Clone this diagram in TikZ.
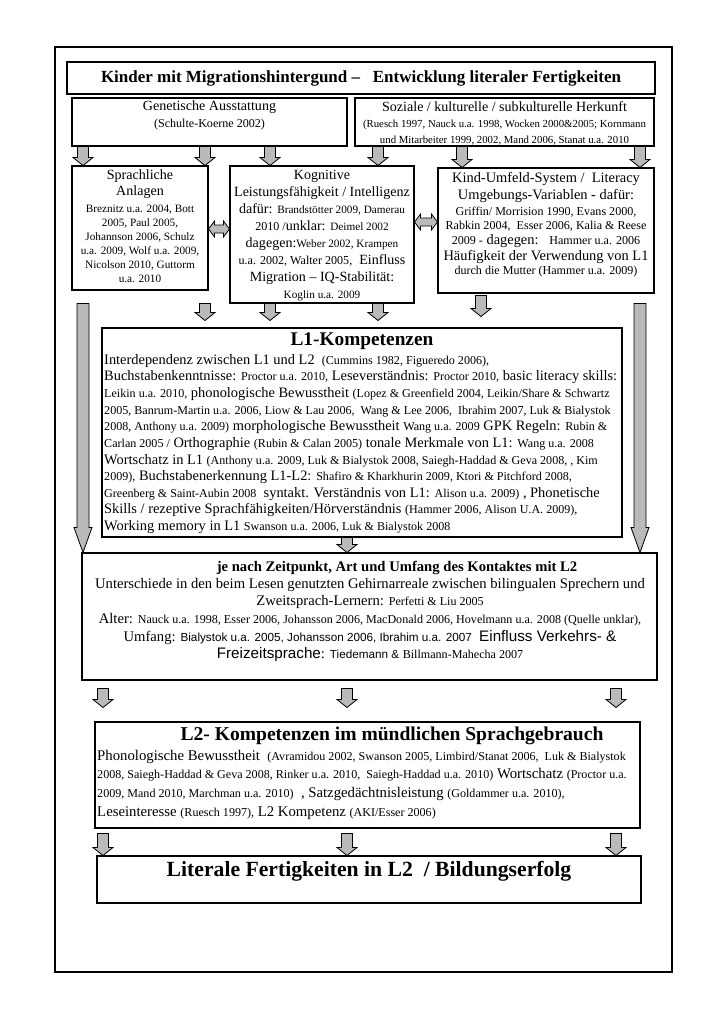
\documentclass[tikz,border=0pt]{standalone}
\usepackage{fontspec}
\setmainfont{Liberation Serif}
\setsansfont{Liberation Sans}
\usetikzlibrary{calc, fit, positioning}

% literature references in smaller type
\newcommand\lit[1]{{\fontsize{10.3}{10}\selectfont #1}}
\newcommand\smlit[1]{{\fontsize{9.6}{10}\selectfont #1}}
\newcommand\tinylit[1]{{\fontsize{9.2}{10}\selectfont #1}}
\newcommand\slit[1]{{\sffamily\fontsize{10}{10}\selectfont #1}}

% gray block arrows: start, end, shaft half width, head half width, head length
\newcommand\blockdown[5]{%
  \draw[blockfill] let \p1=#1, \p2=#2 in
    (\x1-#3,\y1) -- (\x1+#3,\y1) -- (\x1+#3,\y2+#5) -- (\x1+#4,\y2+#5) -- (\x1,\y2)
    -- (\x1-#4,\y2+#5) -- (\x1-#3,\y2+#5) -- cycle;}
\newcommand\shortarrow[2]{\blockdown{#1}{#2}{1.65mm}{3mm}{2.4mm}}
\newcommand\longarrow[2]{\blockdown{#1}{#2}{1.8mm}{2.7mm}{7.5mm}}
\newcommand\bothblock[2]{%
  \draw[blockfill] let \p1=#1, \p2=#2 in
    (\x1,\y1) -- (\x1+1.8mm,\y1+2.4mm) -- (\x1+1.8mm,\y1+1.2mm) -- (\x2-1.8mm,\y1+1.2mm)
    -- (\x2-1.8mm,\y1+2.4mm) -- (\x2,\y1) -- (\x2-1.8mm,\y1-2.4mm) -- (\x2-1.8mm,\y1-1.2mm)
    -- (\x1+1.8mm,\y1-1.2mm) -- (\x1+1.8mm,\y1-2.4mm) -- cycle;}

\begin{document}
\begin{tikzpicture}[x=0.3mm, y=-0.3mm,
    box/.style={draw, line width=0.9pt, inner sep=0pt},
    txt/.style={inner sep=0pt, align=center, font=\fontsize{12}{14}\selectfont},
    bodytxt/.style={inner sep=0pt, align=left, anchor=north west, font=\fontsize{12.3}{14.2}\selectfont},
    headtxt/.style={inner sep=0pt, font=\bfseries\fontsize{16.5}{18}\selectfont},
    blockfill/.style={draw, line width=0.7pt, fill=black!27}]
  \fill[white] (0,0) rectangle (724,1024);
  \useasboundingbox (0,0) rectangle (724,1024);
  \draw[line width=1pt] (55,47) rectangle (672,972);

  % boxes
  \node[box, fit={(67,62) (655,94)}] (title) {};
  \node[box, fit={(72,98) (347,146)}] (gen) {};
  \node[box, fit={(355,98) (654,146)}] (soz) {};
  \node[box, fit={(72,166) (208,290)}] (sprach) {};
  \node[box, fit={(230,166) (414,303)}] (kog) {};
  \node[box, fit={(438,168) (654,293)}] (kind) {};
  \node[box, fit={(102,328) (622,537)}] (l1) {};
  \node[box, fit={(82,553) (657,680)}] (kontakt) {};
  \node[box, fit={(95,722) (640,828)}] (l2) {};
  \node[box, fit={(97,856) (641,903)}] (erfolg) {};

  % texts
  \node[inner sep=0pt, font=\bfseries\fontsize{14.5}{16}\selectfont] (titletxt) at (title.center)
    {Kinder mit Migrationshintergund –\ \ \ Entwicklung literaler Fertigkeiten};
  \node[txt, below=3pt of gen.north] (gentxt)
    {Genetische Ausstattung\\ \lit{(Schulte-Koerne 2002)}};
  \node[txt, below=3pt of soz.north] (soztxt)
    {Soziale / kulturelle / subkulturelle Herkunft\\
     \tinylit{(Ruesch 1997, Nauck u.a. 1998, Wocken 2000\&2005; Kornmann}\\
     \tinylit{und Mitarbeiter 1999, 2002, Mand 2006, Stanat u.a. 2010}};
  \node[txt, below=3.5pt of sprach.north, font=\fontsize{12}{12}\selectfont] (sprachtxt)
    {Sprachliche\\[2pt] Anlagen\\[2pt]
     \smlit{Breznitz u.a. 2004, Bott}\\ \smlit{2005, Paul 2005,}\\
     \smlit{Johannson 2006, Schulz}\\ \smlit{u.a. 2009, Wolf u.a. 2009,}\\
     \smlit{Nicolson 2010, Guttorm}\\ \smlit{u.a. 2010}};
  \node[txt, below=4pt of kog.north, font=\fontsize{12}{14.5}\selectfont] (kogtxt)
    {Kognitive\\ Leistungsfähigkeit / Intelligenz\\
     dafür: \smlit{Brandstötter 2009, Damerau}\\
     \lit{2010 /}unklar: \smlit{Deimel 2002}\\
     dagegen:\smlit{Weber 2002, Krampen}\\
     \lit{u.a. 2002, Walter 2005,}\ \ Einfluss\\
     Migration – IQ-Stabilität:\\
     \smlit{Koglin u.a. 2009}};
  \node[txt, below=4pt of kind.north, font=\fontsize{12.3}{12.3}\selectfont] (kindtxt)
    {Kind-Umfeld-System /\ \ Literacy\\[2.5pt]
     Umgebungs-Variablen - dafür:\\[1pt]
     \lit{Griffin/ Morrision 1990, Evans 2000,}\\
     \lit{Rabkin 2004,\ \ Esser 2006, Kalia \& Reese}\\
     \lit{2009 -} dagegen:\ \ \ \lit{Hammer u.a. 2006}\\[1.5pt]
     Häufigkeit der Verwendung von L1\\
     \lit{durch die Mutter (Hammer u.a. 2009)}};

  \node[headtxt, below=4pt of l1.north] (l1head) {L1-Kompetenzen};
  \node[bodytxt] (l1txt) at (104,354)
    {Interdependenz zwischen L1 und L2\ \ \lit{(Cummins 1982, Figueredo 2006),}\\
     Buchstabenkenntnisse: \lit{Proctor u.a. 2010,} Leseverständnis: \lit{Proctor 2010,} basic literacy skills:\\
     \lit{Leikin u.a. 2010,} phonologische Bewusstheit \lit{(Lopez \& Greenfield 2004, Leikin/Share \& Schwartz}\\
     \lit{2005, Banrum-Martin u.a. 2006, Liow \& Lau 2006,\ \ Wang \& Lee 2006,\ \ Ibrahim 2007, Luk \& Bialystok}\\
     \lit{2008, Anthony u.a. 2009)} morphologische Bewusstheit \lit{Wang u.a. 2009} GPK Regeln: \lit{Rubin \&}\\
     \lit{Carlan 2005 /} Orthographie \lit{(Rubin \& Calan 2005)} tonale Merkmale von L1: \lit{Wang u.a. 2008}\\
     Wortschatz in L1 \lit{(Anthony u.a. 2009, Luk \& Bialystok 2008, Saiegh-Haddad \& Geva 2008, , Kim}\\
     \lit{2009),} Buchstabenerkennung L1-L2: \lit{Shafiro \& Kharkhurin 2009, Ktori \& Pitchford 2008,}\\
     \lit{Greenberg \& Saint-Aubin 2008}\ \ syntakt. Verständnis von L1: \lit{Alison u.a. 2009)} , Phonetische\\
     Skills / rezeptive Sprachfähigkeiten/Hörverständnis \lit{(Hammer 2006, Alison U.A. 2009),}\\
     Working memory in L1 \lit{Swanson u.a. 2006, Luk \& Bialystok 2008}};

  \node[inner sep=0pt, font=\bfseries\fontsize{12.5}{13}\selectfont] (kontakthead) at (397,568)
    {je nach Zeitpunkt, Art und Umfang des Kontaktes mit L2};
  \node[txt, anchor=north, font=\fontsize{12.5}{15}\selectfont] (kontakttxt) at (370,578)
    {Unterschiede in den beim Lesen genutzten Gehirnarreale zwischen bilingualen Sprechern und\\
     Zweitsprach-Lernern: \lit{Perfetti \& Liu 2005}\\
     Alter: \lit{Nauck u.a. 1998, Esser 2006, Johansson 2006, MacDonald 2006, Hovelmann u.a. 2008 (Quelle unklar),}\\
     Umfang: \slit{Bialystok u.a. 2005, Johansson 2006, Ibrahim u.a. 2007}\ \ {\sffamily\fontsize{13}{15}\selectfont Einfluss Verkehrs- \&}\\
     {\sffamily\fontsize{13}{15}\selectfont Freizeitsprache}: \slit{Tiedemann \&} \lit{Billmann-Mahecha 2007}};

  \node[headtxt, font=\bfseries\fontsize{16.7}{18}\selectfont] (l2head) at (392,736) {L2- Kompetenzen im mündlichen Sprachgebrauch};
  \node[bodytxt, font=\fontsize{12.6}{15.8}\selectfont] (l2txt) at (97,750)
    {Phonologische Bewusstheit\ \ \lit{(Avramidou 2002, Swanson 2005, Limbird/Stanat 2006,\ \ Luk \& Bialystok}\\
     \lit{2008, Saiegh-Haddad \& Geva 2008, Rinker u.a. 2010,\ \ Saiegh-Haddad u.a. 2010)} Wortschatz \lit{(Proctor u.a.}\\
     \lit{2009, Mand 2010, Marchman u.a. 2010)}\ \ , Satzgedächtnisleistung \lit{(Goldammer u.a. 2010),}\\
     Leseinteresse \lit{(Ruesch 1997),} L2 Kompetenz \lit{(AKI/Esser 2006)}};

  \node[headtxt, font=\bfseries\fontsize{18.5}{20}\selectfont] (erfolgtxt) at (369,871) {Literale Fertigkeiten in L2\ \ / Bildungserfolg};

  % arrows between the rows
  \shortarrow{(83,0 |- gen.south)}{(83,0 |- sprach.north)}
  \shortarrow{(205,0 |- gen.south)}{(205,0 |- sprach.north)}
  \shortarrow{(270,0 |- gen.south)}{(270,0 |- kog.north)}
  \shortarrow{(378,0 |- soz.south)}{(378,0 |- kog.north)}
  \shortarrow{(462,0 |- soz.south)}{(462,0 |- kind.north)}
  \shortarrow{(640,0 |- soz.south)}{(640,0 |- kind.north)}
  \bothblock{(sprach.east |- 0,229)}{(kog.west |- 0,229)}
  \bothblock{(kog.east |- 0,222)}{(kind.west |- 0,222)}

  \shortarrow{(205,0 |- kog.south)}{($(205,0 |- l1.north)+(0,-7)$)}
  \shortarrow{(270,0 |- kog.south)}{($(270,0 |- l1.north)+(0,-7)$)}
  \shortarrow{(378,0 |- kog.south)}{($(378,0 |- l1.north)+(0,-7)$)}
  \shortarrow{($(481,0 |- kind.south)+(0,2)$)}{($(481,0 |- l1.north)+(0,-11)$)}
  \longarrow{(83,0 |- kog.south)}{(83,0 |- kontakt.north)}
  \longarrow{(640,0 |- kog.south)}{(640,0 |- kontakt.north)}
  \shortarrow{(347,0 |- l1.south)}{(347,0 |- kontakt.north)}

  \foreach \col in {103, 347, 616} {
    \shortarrow{($(\col,0 |- kontakt.south)+(0,8)$)}{($(\col,0 |- l2.north)+(0,-14)$)}
    \shortarrow{($(\col,0 |- l2.south)+(0,5)$)}{(\col,0 |- erfolg.north)}
  }
\end{tikzpicture}
\end{document}
